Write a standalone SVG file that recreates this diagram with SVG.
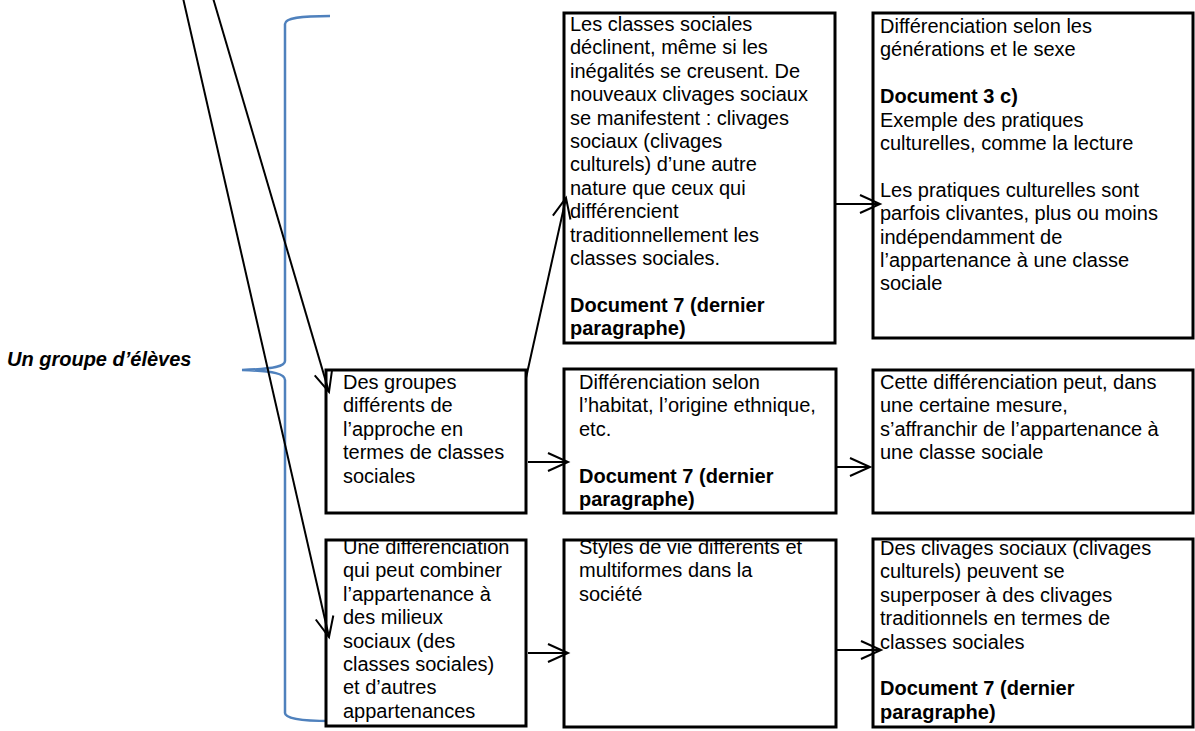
<svg xmlns="http://www.w3.org/2000/svg" width="1195" height="731" viewBox="0 0 1195 731">
<style>
.box{fill:#fff;stroke:#000;stroke-width:3}
.t{font-family:"Liberation Sans",Arial,sans-serif;font-size:20px;fill:#000}
.b{font-weight:bold}
.conn{stroke:#000;stroke-width:2;fill:none}
.brace{stroke:#4F81BD;stroke-width:2.5;fill:none}
</style>
<defs>
<marker id="arr" markerUnits="userSpaceOnUse" markerWidth="30" markerHeight="30" refX="0" refY="0" orient="auto" overflow="visible">
<path d="M-20,-9 L0,0 L-20,9" fill="none" stroke="#000" stroke-width="2"/>
</marker>
</defs>
<rect width="1195" height="731" fill="#fff"/>

<g id="brace"><path class="brace" d="M330,16 C300,16 285,18 285,24 L285,361 C285,366 275,369 242,370 C275,371 285,374 285,380 L285,713 C285,718 300,721 330,721"/></g>

<g id="label"><text class="t b" x="7" y="366" font-style="italic">Un groupe d’élèves</text></g>

<g id="nA"><rect class="box" x="564" y="13" width="271" height="330"/>
<text class="t"><tspan x="570" y="31">Les classes sociales</tspan><tspan x="570" y="54.4">déclinent, même si les</tspan><tspan x="570" y="77.8">inégalités se creusent. De</tspan><tspan x="570" y="101.2">nouveaux clivages sociaux</tspan><tspan x="570" y="124.6">se manifestent : clivages</tspan><tspan x="570" y="148">sociaux (clivages</tspan><tspan x="570" y="171.4">culturels) d’une autre</tspan><tspan x="570" y="194.8">nature que ceux qui</tspan><tspan x="570" y="218.2">différencient</tspan><tspan x="570" y="241.6">traditionnellement les</tspan><tspan x="570" y="265">classes sociales.</tspan><tspan class="b" x="570" y="311.8">Document 7 (dernier</tspan><tspan class="b" x="570" y="335.2">paragraphe)</tspan></text></g>

<g id="nB"><rect class="box" x="873" y="13" width="320" height="325"/>
<text class="t"><tspan x="880" y="33">Différenciation selon les</tspan><tspan x="880" y="56.4">générations et le sexe</tspan><tspan class="b" x="880" y="103.2">Document 3 c)</tspan><tspan x="880" y="126.6">Exemple des pratiques</tspan><tspan x="880" y="150">culturelles, comme la lecture</tspan><tspan x="880" y="196.8">Les pratiques culturelles sont</tspan><tspan x="880" y="220.2">parfois clivantes, plus ou moins</tspan><tspan x="880" y="243.6">indépendamment de</tspan><tspan x="880" y="267">l’appartenance à une classe</tspan><tspan x="880" y="290.4">sociale</tspan></text></g>

<g id="nL2"><rect class="box" x="326" y="370" width="200" height="143"/>
<text class="t"><tspan x="343" y="389">Des groupes</tspan><tspan x="343" y="412.4">différents de</tspan><tspan x="343" y="435.8">l’approche en</tspan><tspan x="343" y="459.2">termes de classes</tspan><tspan x="343" y="482.6">sociales</tspan></text></g>

<g id="nB2"><rect class="box" x="564" y="369" width="272" height="144"/>
<text class="t"><tspan x="579" y="389">Différenciation selon</tspan><tspan x="579" y="412.4">l’habitat, l’origine ethnique,</tspan><tspan x="579" y="435.8">etc.</tspan><tspan class="b" x="579" y="483">Document 7 (dernier</tspan><tspan class="b" x="579" y="506">paragraphe)</tspan></text></g>

<g id="nC2"><rect class="box" x="873" y="370" width="320" height="143"/>
<text class="t"><tspan x="880" y="389">Cette différenciation peut, dans</tspan><tspan x="880" y="412.4">une certaine mesure,</tspan><tspan x="880" y="435.8">s’affranchir de l’appartenance à</tspan><tspan x="880" y="459.2">une classe sociale</tspan></text></g>

<g id="nL3"><rect class="box" x="326" y="540" width="200" height="186"/>
<text class="t"><tspan x="343" y="554">Une différenciation</tspan><tspan x="343" y="577.4">qui peut combiner</tspan><tspan x="343" y="600.8">l’appartenance à</tspan><tspan x="343" y="624.2">des milieux</tspan><tspan x="343" y="647.6">sociaux (des</tspan><tspan x="343" y="671">classes sociales)</tspan><tspan x="343" y="694.4">et d’autres</tspan><tspan x="343" y="717.8">appartenances</tspan></text></g>

<g id="nB3"><rect class="box" x="564" y="540" width="272" height="187"/>
<text class="t"><tspan x="579" y="554">Styles de vie différents et</tspan><tspan x="579" y="577.4">multiformes dans la</tspan><tspan x="579" y="600.8">société</tspan></text></g>

<g id="nC3"><rect class="box" x="873" y="539" width="320" height="188"/>
<text class="t"><tspan x="880" y="555">Des clivages sociaux (clivages</tspan><tspan x="880" y="578.4">culturels) peuvent se</tspan><tspan x="880" y="601.8">superposer à des clivages</tspan><tspan x="880" y="625.2">traditionnels en termes de</tspan><tspan x="880" y="648.6">classes sociales</tspan><tspan class="b" x="880" y="695.4">Document 7 (dernier</tspan><tspan class="b" x="880" y="718.8">paragraphe)</tspan></text></g>

<g id="connectors">
<line class="conn" x1="183" y1="-2" x2="329" y2="637" marker-end="url(#arr)"/>
<line class="conn" x1="213" y1="-2" x2="329" y2="392" marker-end="url(#arr)"/>
<line class="conn" x1="526" y1="378" x2="566" y2="198" marker-end="url(#arr)"/>
<line class="conn" x1="836" y1="204" x2="880" y2="204" marker-end="url(#arr)"/>
<line class="conn" x1="528" y1="462" x2="568" y2="462" marker-end="url(#arr)"/>
<line class="conn" x1="837" y1="467" x2="870" y2="467" marker-end="url(#arr)"/>
<line class="conn" x1="528" y1="653" x2="568" y2="653" marker-end="url(#arr)"/>
<line class="conn" x1="837" y1="650" x2="881" y2="650" marker-end="url(#arr)"/>
</g>
</svg>
